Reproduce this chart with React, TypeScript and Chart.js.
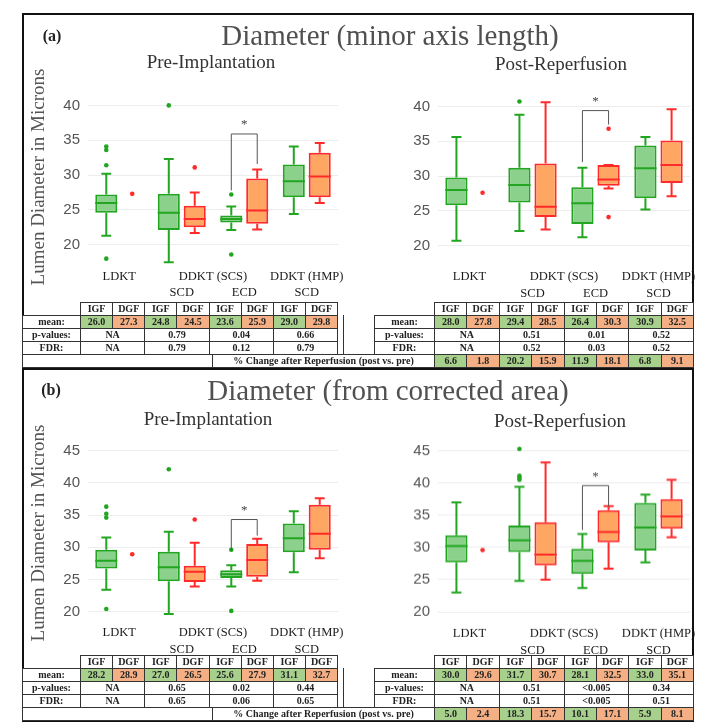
import React, { useEffect, useRef } from 'react';
import { Chart, registerables } from 'chart.js';

Chart.register(...registerables);

const SERIF = "'Liberation Serif', 'Times New Roman', Times, serif";
const SANS = "'Liberation Sans', Arial, sans-serif";

const IGF_LINE = '#22a622';
const IGF_FILL = '#8bd08b';
const DGF_LINE = '#ff2b2b';
const DGF_FILL = '#ffa662';
const MEAN_GREEN = '#a6d08c';
const MEAN_ORANGE = '#f4b084';

// ---------- categories / labels ----------
const categories = ['LDKT', 'SCD', 'ECD', 'SCD'];
const groupLabels = ['LDKT', 'DDKT (SCS)', 'DDKT (HMP)'];
const groupLabelPos = [0, 1.5, 3];
const subLabels = ['', 'SCD', 'ECD', 'SCD'];
const seriesNames = ['IGF', 'DGF'];

// ---------- box stats: [low whisker, q1, median, q3, high whisker] ----------
const aPreIGF = [
  [21.3, 24.6, 26.0, 27.2, 30.2],
  [17.5, 22.1, 24.6, 27.3, 32.3],
  [22.1, 23.2, 23.7, 24.2, 25.5],
  [24.4, 26.8, 29.1, 31.5, 34.1],
];
const aPreIGFOut = [[34.1, 33.6, 31.4, 18.0], [40.0], [27.2, 18.6], []];
const aPreDGF = [
  null,
  [21.7, 22.5, 23.7, 25.6, 27.5],
  [22.2, 23.0, 24.9, 29.5, 30.8],
  [26.0, 26.8, 29.8, 33.2, 34.6],
];
const aPreDGFOut = [[27.3], [31.1], [], []];
const aPreBracket = [35.9, 27.8, 31.6];

const aPostIGF = [
  [20.7, 25.8, 28.0, 29.8, 35.6],
  [22.1, 26.2, 28.7, 31.2, 38.8],
  [21.2, 23.1, 26.1, 28.4, 31.2],
  [25.2, 26.8, 31.1, 34.4, 35.6],
];
const aPostIGFOut = [[], [40.7], [], []];
const aPostDGF = [
  null,
  [22.3, 24.1, 25.6, 31.8, 40.6],
  [28.2, 28.6, 29.5, 31.6, 31.6],
  [27.1, 29.0, 31.6, 35.1, 39.6],
];
const aPostDGFOut = [[27.6], [], [36.8, 24.1], []];
const aPostBracket = [39.4, 32.0, 37.4];

const bPreIGF = [
  [23.4, 26.7, 27.9, 29.6, 31.5],
  [19.6, 24.7, 26.9, 29.3, 32.4],
  [23.9, 25.2, 25.8, 26.4, 27.2],
  [26.1, 29.2, 31.4, 33.7, 35.6],
];
const bPreIGFOut = [[36.3, 35.2, 34.6, 20.4], [42.1], [29.6, 20.1], []];
const bPreDGF = [
  null,
  [23.9, 24.6, 26.2, 27.1, 30.7],
  [24.8, 25.4, 28.0, 30.5, 31.3],
  [28.3, 29.6, 32.1, 36.6, 37.6],
];
const bPreDGFOut = [[28.9], [34.3], [], []];
const bPreBracket = [34.3, 29.5, 31.8];

const bPostIGF = [
  [23.0, 27.7, 30.2, 31.9, 37.0],
  [24.8, 29.3, 31.1, 33.4, 39.4],
  [23.7, 25.9, 27.9, 29.8, 32.1],
  [27.7, 29.5, 33.1, 36.9, 38.2],
];
const bPostIGFOut = [[], [45.3, 41.1, 40.8, 40.5], [], []];
const bPostDGF = [
  null,
  [25.0, 27.2, 28.9, 33.9, 43.2],
  [26.7, 30.8, 32.4, 35.8, 36.4],
  [31.6, 32.9, 34.8, 37.5, 40.5],
];
const bPostDGFOut = [[29.6], [], [], []];
const bPostBracket = [39.6, 32.7, 36.4];

// ---------- table values ----------
const aPreMeans = [26.0, 27.3, 24.8, 24.5, 23.6, 25.9, 29.0, 29.8];
const aPrePvals = ['NA', '0.79', '0.04', '0.66'];
const aPreFDR = ['NA', '0.79', '0.12', '0.79'];
const aPostMeans = [28.0, 27.8, 29.4, 28.5, 26.4, 30.3, 30.9, 32.5];
const aPostPvals = ['NA', '0.51', '0.01', '0.52'];
const aPostFDR = ['NA', '0.52', '0.03', '0.52'];
const aChange = [6.6, 1.8, 20.2, 15.9, 11.9, 18.1, 6.8, 9.1];

const bPreMeans = [28.2, 28.9, 27.0, 26.5, 25.6, 27.9, 31.1, 32.7];
const bPrePvals = ['NA', '0.65', '0.02', '0.44'];
const bPreFDR = ['NA', '0.65', '0.06', '0.65'];
const bPostMeans = [30.0, 29.6, 31.7, 30.7, 28.1, 32.5, 33.0, 35.1];
const bPostPvals = ['NA', '0.51', '<0.005', '0.34'];
const bPostFDR = ['NA', '0.51', '<0.005', '0.51'];
const bChange = [5.0, 2.4, 18.3, 15.7, 10.1, 17.1, 5.9, 8.1];

type Box = number[] | null;
interface PanelCfg {
  area: { l: number; r: number; t: number; b: number };
  yMin: number;
  yMax: number;
  labelY: number[];
  igf: Box[];
  igfOut: number[][];
  dgf: Box[];
  dgfOut: number[][];
  bracket: number[];
}

const panels: PanelCfg[] = [
  { area: { l: 88, r: 338, t: 87.9, b: 269.1 }, yMin: 16.5, yMax: 42.5, labelY: [277, 293],
    igf: aPreIGF, igfOut: aPreIGFOut, dgf: aPreDGF, dgfOut: aPreDGFOut, bracket: aPreBracket },
  { area: { l: 438, r: 690, t: 88.6, b: 270 }, yMin: 16.5, yMax: 42.5, labelY: [276, 293],
    igf: aPostIGF, igfOut: aPostIGFOut, dgf: aPostDGF, dgfOut: aPostDGFOut, bracket: aPostBracket },
  { area: { l: 88, r: 338, t: 440.8, b: 621.2 }, yMin: 18.5, yMax: 46.5, labelY: [633, 650],
    igf: bPreIGF, igfOut: bPreIGFOut, dgf: bPreDGF, dgfOut: bPreDGFOut, bracket: bPreBracket },
  { area: { l: 438, r: 690, t: 441.3, b: 621.7 }, yMin: 18.5, yMax: 46.5, labelY: [633, 650],
    igf: bPostIGF, igfOut: bPostIGFOut, dgf: bPostDGF, dgfOut: bPostDGFOut, bracket: bPostBracket },
];

const Y_AXIS_W = 45;
const PAD_T = 25;
const PAD_R = 14;

function BoxChart({ p }: { p: PanelCfg }) {
  const ref = useRef<HTMLCanvasElement>(null);
  const left = p.area.l - Y_AXIS_W;
  const top = p.area.t - PAD_T;
  const width = p.area.r + PAD_R - left;
  const bottom = p.labelY[1] + 10;
  const height = bottom - top;

  useEffect(() => {
    const canvas = ref.current!;
    const plugin = {
      id: 'boxdeco',
      afterDatasetsDraw(chart: any) {
        const { ctx } = chart;
        const x = chart.scales.x;
        const y = chart.scales.y;
        const sets = [
          { boxes: p.igf, outs: p.igfOut, line: IGF_LINE },
          { boxes: p.dgf, outs: p.dgfOut, line: DGF_LINE },
        ];
        ctx.save();
        sets.forEach((s, d) => {
          const meta = chart.getDatasetMeta(d);
          meta.data.forEach((el: any, j: number) => {
            const cx = el.x;
            const w = el.width;
            ctx.strokeStyle = s.line;
            ctx.fillStyle = s.line;
            ctx.lineWidth = 2;
            const b = s.boxes[j];
            if (b) {
              const [lo, q1, med, q3, hi] = b;
              const cap = w * 0.45;
              ctx.beginPath();
              ctx.moveTo(cx, y.getPixelForValue(q3));
              ctx.lineTo(cx, y.getPixelForValue(hi));
              ctx.moveTo(cx - cap / 2, y.getPixelForValue(hi));
              ctx.lineTo(cx + cap / 2, y.getPixelForValue(hi));
              ctx.moveTo(cx, y.getPixelForValue(q1));
              ctx.lineTo(cx, y.getPixelForValue(lo));
              ctx.moveTo(cx - cap / 2, y.getPixelForValue(lo));
              ctx.lineTo(cx + cap / 2, y.getPixelForValue(lo));
              ctx.moveTo(cx - w / 2, y.getPixelForValue(med));
              ctx.lineTo(cx + w / 2, y.getPixelForValue(med));
              ctx.stroke();
            }
            s.outs[j].forEach((v) => {
              ctx.beginPath();
              ctx.arc(cx, y.getPixelForValue(v), 2.3, 0, Math.PI * 2);
              ctx.fill();
            });
          });
        });
        // significance bracket on ECD
        const e0 = chart.getDatasetMeta(0).data[2];
        const e1 = chart.getDatasetMeta(1).data[2];
        const [bt, bl, br] = p.bracket;
        ctx.strokeStyle = '#555';
        ctx.lineWidth = 1;
        ctx.beginPath();
        ctx.moveTo(e0.x, y.getPixelForValue(bl));
        ctx.lineTo(e0.x, y.getPixelForValue(bt));
        ctx.lineTo(e1.x, y.getPixelForValue(bt));
        ctx.lineTo(e1.x, y.getPixelForValue(br));
        ctx.stroke();
        ctx.fillStyle = '#444';
        ctx.font = `13px ${SERIF}`;
        ctx.textAlign = 'center';
        ctx.textBaseline = 'middle';
        ctx.fillText('*', (e0.x + e1.x) / 2, y.getPixelForValue(bt) - 9);
        // category labels
        ctx.fillStyle = '#1a1a1a';
        ctx.font = `12.5px ${SERIF}`;
        const r1 = p.labelY[0] - top;
        const r2 = p.labelY[1] - top;
        groupLabels.forEach((g, i) => {
          ctx.fillText(g, x.getPixelForValue(groupLabelPos[i]), r1);
        });
        subLabels.forEach((g, i) => {
          if (g) ctx.fillText(g, x.getPixelForValue(i), r2);
        });
        ctx.restore();
      },
    };

    const chart = new Chart(canvas, {
      type: 'bar',
      data: {
        labels: categories,
        datasets: [
          {
            label: seriesNames[0],
            data: p.igf.map((b) => (b ? [b[1], b[3]] : null)) as any,
            backgroundColor: IGF_FILL,
            borderColor: IGF_LINE,
            borderWidth: 2,
            borderSkipped: false,
            categoryPercentage: 0.83,
            barPercentage: 0.85,
          },
          {
            label: seriesNames[1],
            data: p.dgf.map((b) => (b ? [b[1], b[3]] : null)) as any,
            backgroundColor: DGF_FILL,
            borderColor: DGF_LINE,
            borderWidth: 2,
            borderSkipped: false,
            categoryPercentage: 0.83,
            barPercentage: 0.85,
          },
        ],
      },
      options: {
        animation: false,
        responsive: false,
        maintainAspectRatio: false,
        devicePixelRatio: 1,
        events: [],
        layout: { padding: { top: PAD_T, right: PAD_R, bottom: bottom - p.area.b, left: 0 } },
        plugins: { legend: { display: false }, tooltip: { enabled: false } },
        scales: {
          x: { type: 'category', display: false, offset: true },
          y: {
            min: p.yMin,
            max: p.yMax,
            ticks: {
              stepSize: 5,
              includeBounds: false,
              color: '#555',
              padding: 8,
              font: { family: SANS, size: 15 },
            },
            grid: { color: '#ededed', drawTicks: false },
            border: { display: false },
            afterFit: (s: any) => {
              s.width = Y_AXIS_W;
              s.paddingTop = 0;
              s.paddingBottom = 0;
            },
          },
        },
      },
      plugins: [plugin],
    } as any);
    return () => chart.destroy();
  }, []);

  return (
    <canvas
      ref={ref}
      width={width}
      height={height}
      style={{ position: 'absolute', left, top, width, height }}
    />
  );
}

function Txt(props: { x: number; y: number; size: number; children: any; bold?: boolean; color?: string; rotate?: boolean; family?: string }) {
  return (
    <div
      style={{
        position: 'absolute',
        left: props.x,
        top: props.y,
        transform: `translate(-50%, -50%)${props.rotate ? ' rotate(-90deg)' : ''}`,
        fontSize: props.size,
        fontFamily: props.family || SERIF,
        fontWeight: props.bold ? 'bold' : 'normal',
        color: props.color || '#222',
        whiteSpace: 'nowrap',
        lineHeight: 1,
      }}
    >
      {props.children}
    </div>
  );
}

const ROW_H = 13;
const L_LABEL_X = 22;
const L_COL_X = 80;
const L_COL_W = (337 - 80) / 8;
const R_LABEL_X = 374;
const R_COL_X = 434;
const R_COL_W = (693 - 434) / 8;

function Cell({ x, y, w, h, text, bg }: { x: number; y: number; w: number; h: number; text?: string; bg?: string }) {
  return (
    <div
      style={{
        position: 'absolute',
        left: x,
        top: y,
        width: w + 1,
        height: h + 1,
        boxSizing: 'border-box',
        border: '1px solid #333',
        background: bg || '#fff',
        fontFamily: SERIF,
        fontWeight: 'bold',
        fontSize: 10,
        lineHeight: `${h - 1}px`,
        textAlign: 'center',
        color: '#222',
        whiteSpace: 'nowrap',
        overflow: 'hidden',
      }}
    >
      {text}
    </div>
  );
}

function Table({ y0, lMeans, lP, lF, rMeans, rP, rF, change }: any) {
  const cells: any[] = [];
  const side = (labelX: number, colX: number, colW: number, means: number[], pv: string[], fdr: string[], pre: string) => {
    for (let k = 0; k < 8; k++) {
      cells.push(<Cell key={`${pre}h${k}`} x={colX + k * colW} y={y0} w={colW} h={ROW_H} text={seriesNames[k % 2]} />);
      cells.push(
        <Cell key={`${pre}m${k}`} x={colX + k * colW} y={y0 + ROW_H} w={colW} h={ROW_H}
          text={means[k].toFixed(1)} bg={k % 2 === 0 ? MEAN_GREEN : MEAN_ORANGE} />
      );
    }
    cells.push(<Cell key={`${pre}ml`} x={labelX} y={y0 + ROW_H} w={colX - labelX} h={ROW_H} text="mean:" />);
    cells.push(<Cell key={`${pre}pl`} x={labelX} y={y0 + 2 * ROW_H} w={colX - labelX} h={ROW_H} text="p-values:" />);
    cells.push(<Cell key={`${pre}fl`} x={labelX} y={y0 + 3 * ROW_H} w={colX - labelX} h={ROW_H} text="FDR:" />);
    for (let g = 0; g < 4; g++) {
      cells.push(<Cell key={`${pre}p${g}`} x={colX + 2 * g * colW} y={y0 + 2 * ROW_H} w={2 * colW} h={ROW_H} text={pv[g]} />);
      cells.push(<Cell key={`${pre}f${g}`} x={colX + 2 * g * colW} y={y0 + 3 * ROW_H} w={2 * colW} h={ROW_H} text={fdr[g]} />);
    }
  };
  side(L_LABEL_X, L_COL_X, L_COL_W, lMeans, lP, lF, 'L');
  side(R_LABEL_X, R_COL_X, R_COL_W, rMeans, rP, rF, 'R');
  cells.push(<Cell key="blank" x={L_LABEL_X} y={y0 + 4 * ROW_H} w={212 - L_LABEL_X} h={ROW_H} />);
  cells.push(
    <Cell key="chl" x={212} y={y0 + 4 * ROW_H} w={R_COL_X - 212} h={ROW_H}
      text="% Change after Reperfusion (post vs. pre)" />
  );
  for (let k = 0; k < 8; k++) {
    cells.push(
      <Cell key={`c${k}`} x={R_COL_X + k * R_COL_W} y={y0 + 4 * ROW_H} w={R_COL_W} h={ROW_H}
        text={change[k].toFixed(1)} bg={k % 2 === 0 ? MEAN_GREEN : MEAN_ORANGE} />
    );
  }
  cells.push(
    <div key="vline" style={{ position: 'absolute', left: 343, top: y0 + ROW_H, width: 1, height: 3 * ROW_H, background: '#333' }} />
  );
  return <>{cells}</>;
}

export default function App() {
  return (
    <div style={{ position: 'absolute', left: 0, top: 0, width: 705, height: 728, background: '#fff', overflow: 'hidden' }}>
      {panels.map((p, i) => (
        <BoxChart key={i} p={p} />
      ))}

      <div style={{ position: 'absolute', left: 22, top: 13, width: 672, height: 356, border: '2px solid #111', boxSizing: 'border-box' }} />
      <div style={{ position: 'absolute', left: 22, top: 368, width: 672, height: 354, border: '2px solid #111', boxSizing: 'border-box' }} />

      <Txt x={52} y={36} size={16} bold>(a)</Txt>
      <Txt x={390} y={35} size={29} color="#505050">Diameter (minor axis length)</Txt>
      <Txt x={211} y={61} size={19} color="#333">Pre-Implantation</Txt>
      <Txt x={561} y={63} size={19} color="#333">Post-Reperfusion</Txt>
      <Txt x={37} y={177} size={19} color="#555" rotate>Lumen Diameter in Microns</Txt>

      <Txt x={51} y={390} size={16} bold>(b)</Txt>
      <Txt x={388} y={390} size={29} color="#505050">Diameter (from corrected area)</Txt>
      <Txt x={208} y={418} size={19} color="#333">Pre-Implantation</Txt>
      <Txt x={560} y={420} size={19} color="#333">Post-Reperfusion</Txt>
      <Txt x={37} y={533} size={19} color="#555" rotate>Lumen Diameter in Microns</Txt>

      <Table y0={302} lMeans={aPreMeans} lP={aPrePvals} lF={aPreFDR}
        rMeans={aPostMeans} rP={aPostPvals} rF={aPostFDR} change={aChange} />
      <Table y0={655} lMeans={bPreMeans} lP={bPrePvals} lF={bPreFDR}
        rMeans={bPostMeans} rP={bPostPvals} rF={bPostFDR} change={bChange} />
    </div>
  );
}
